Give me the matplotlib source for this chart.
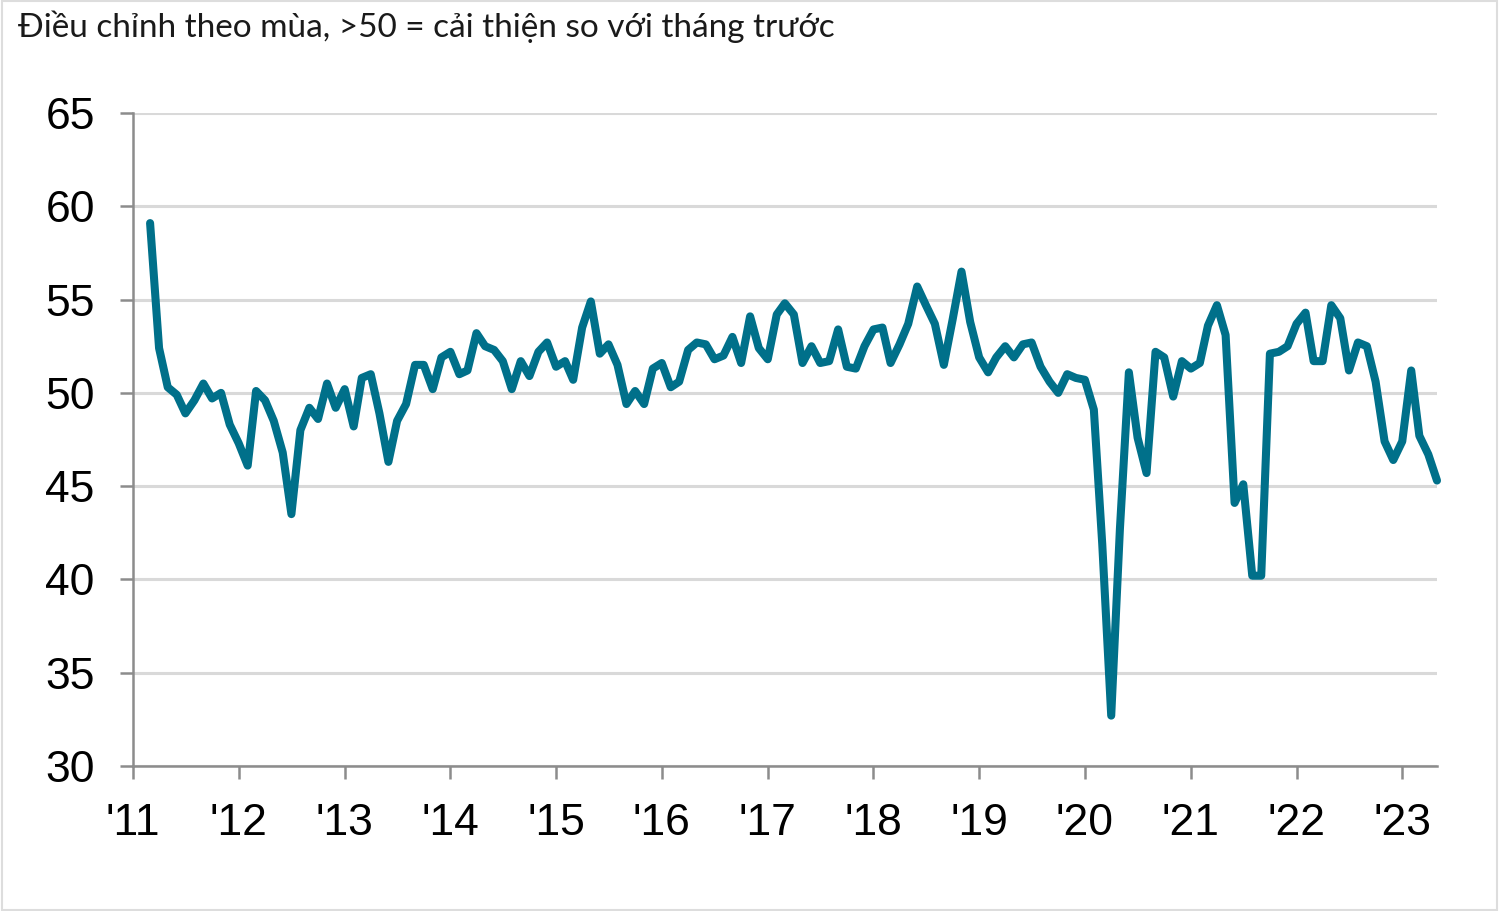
import matplotlib
matplotlib.use("Agg")
import matplotlib.pyplot as plt
import pandas as pd
from matplotlib.patches import Rectangle

# Monthly PMI readings, Mar 2011 - May 2023
pmi_2011 = [59.1, 52.4, 50.3, 49.9, 48.9, 49.6, 50.5, 49.7, 50.0, 48.3]
pmi_2012 = [47.3, 46.1, 50.1, 49.6, 48.5, 46.8, 43.5, 48.0, 49.2, 48.6, 50.5, 49.2]
pmi_2013 = [50.2, 48.2, 50.8, 51.0, 48.9, 46.3, 48.5, 49.4, 51.5, 51.5, 50.2, 51.9]
pmi_2014 = [52.2, 51.0, 51.2, 53.2, 52.5, 52.3, 51.7, 50.2, 51.7, 50.9, 52.2, 52.7]
pmi_2015 = [51.4, 51.7, 50.7, 53.5, 54.9, 52.1, 52.6, 51.5, 49.4, 50.1, 49.4, 51.3]
pmi_2016 = [51.6, 50.3, 50.6, 52.3, 52.7, 52.6, 51.8, 52.0, 53.0, 51.6, 54.1, 52.4]
pmi_2017 = [51.8, 54.2, 54.8, 54.2, 51.6, 52.5, 51.6, 51.7, 53.4, 51.4, 51.3, 52.5]
pmi_2018 = [53.4, 53.5, 51.6, 52.6, 53.7, 55.7, 54.7, 53.7, 51.5, 53.9, 56.5, 53.8]
pmi_2019 = [51.9, 51.1, 51.9, 52.5, 51.9, 52.6, 52.7, 51.4, 50.6, 50.0, 51.0, 50.8]
pmi_2020 = [50.7, 49.1, 41.9, 32.7, 42.7, 51.1, 47.6, 45.7, 52.2, 51.9, 49.8, 51.7]
pmi_2021 = [51.3, 51.6, 53.6, 54.7, 53.1, 44.1, 45.1, 40.2, 40.2, 52.1, 52.2, 52.5]
pmi_2022 = [53.7, 54.3, 51.7, 51.7, 54.7, 54.0, 51.2, 52.7, 52.5, 50.6, 47.4, 46.4]
pmi_2023 = [47.4, 51.2, 47.7, 46.7, 45.3]

values = (pmi_2011 + pmi_2012 + pmi_2013 + pmi_2014 + pmi_2015 + pmi_2016 +
          pmi_2017 + pmi_2018 + pmi_2019 + pmi_2020 + pmi_2021 + pmi_2022 + pmi_2023)
dates = pd.date_range("2011-03-01", periods=len(values), freq="MS")

years = list(range(2011, 2024))
year_labels = ["'11", "'12", "'13", "'14", "'15", "'16", "'17", "'18", "'19",
               "'20", "'21", "'22", "'23"]
y_ticks = [30, 35, 40, 45, 50, 55, 60, 65]

subtitle = "Điều chỉnh theo mùa, >50 = cải thiện so với tháng trước"

W, H = 1500, 911
fig = plt.figure(figsize=(W / 100, H / 100), dpi=100)
fig.patch.set_facecolor("white")

left, right, top, bottom = 133, 1437, 113, 766
ax = fig.add_axes([left / W, 1 - bottom / H, (right - left) / W, (bottom - top) / H])

ax.plot(dates, values, color="#00708a", linewidth=5.8, solid_joinstyle="round",
        solid_capstyle="round", zorder=3, clip_on=False)

ax.set_ylim(30, 65)
ax.set_xlim(pd.Timestamp("2011-01-01"), pd.Timestamp("2023-05-01"))
ax.set_yticks(y_ticks)
ax.set_yticklabels([str(v) for v in y_ticks])
ax.set_xticks([pd.Timestamp(f"{y}-01-01") for y in years])
ax.set_xticklabels(year_labels)

ax.grid(axis="y", color="#d9d9d9", linewidth=2.2, zorder=0)
ax.set_axisbelow(True)
for s in ["top", "right"]:
    ax.spines[s].set_visible(False)
for s in ["left", "bottom"]:
    ax.spines[s].set_color("#8c8c8c")
    ax.spines[s].set_linewidth(1.8)

ax.tick_params(axis="both", direction="out", length=9.5, width=1.8, color="#8c8c8c",
               labelsize=32, labelcolor="black")
ax.tick_params(axis="y", pad=18)
ax.tick_params(axis="x", pad=17)
for lab in ax.get_xticklabels() + ax.get_yticklabels():
    lab.set_fontfamily("Liberation Sans")

fig.text(18 / W, 1 - 27 / H, subtitle, fontsize=24, family=["Lato", "DejaVu Sans"],
         color="#1a1a1a", ha="left", va="center")

fig.patches.append(Rectangle((0.001, 0.001), 0.997, 0.998, transform=fig.transFigure,
                             fill=False, edgecolor="#dddddd", linewidth=1.5))

fig.savefig("out.png", dpi=100)
